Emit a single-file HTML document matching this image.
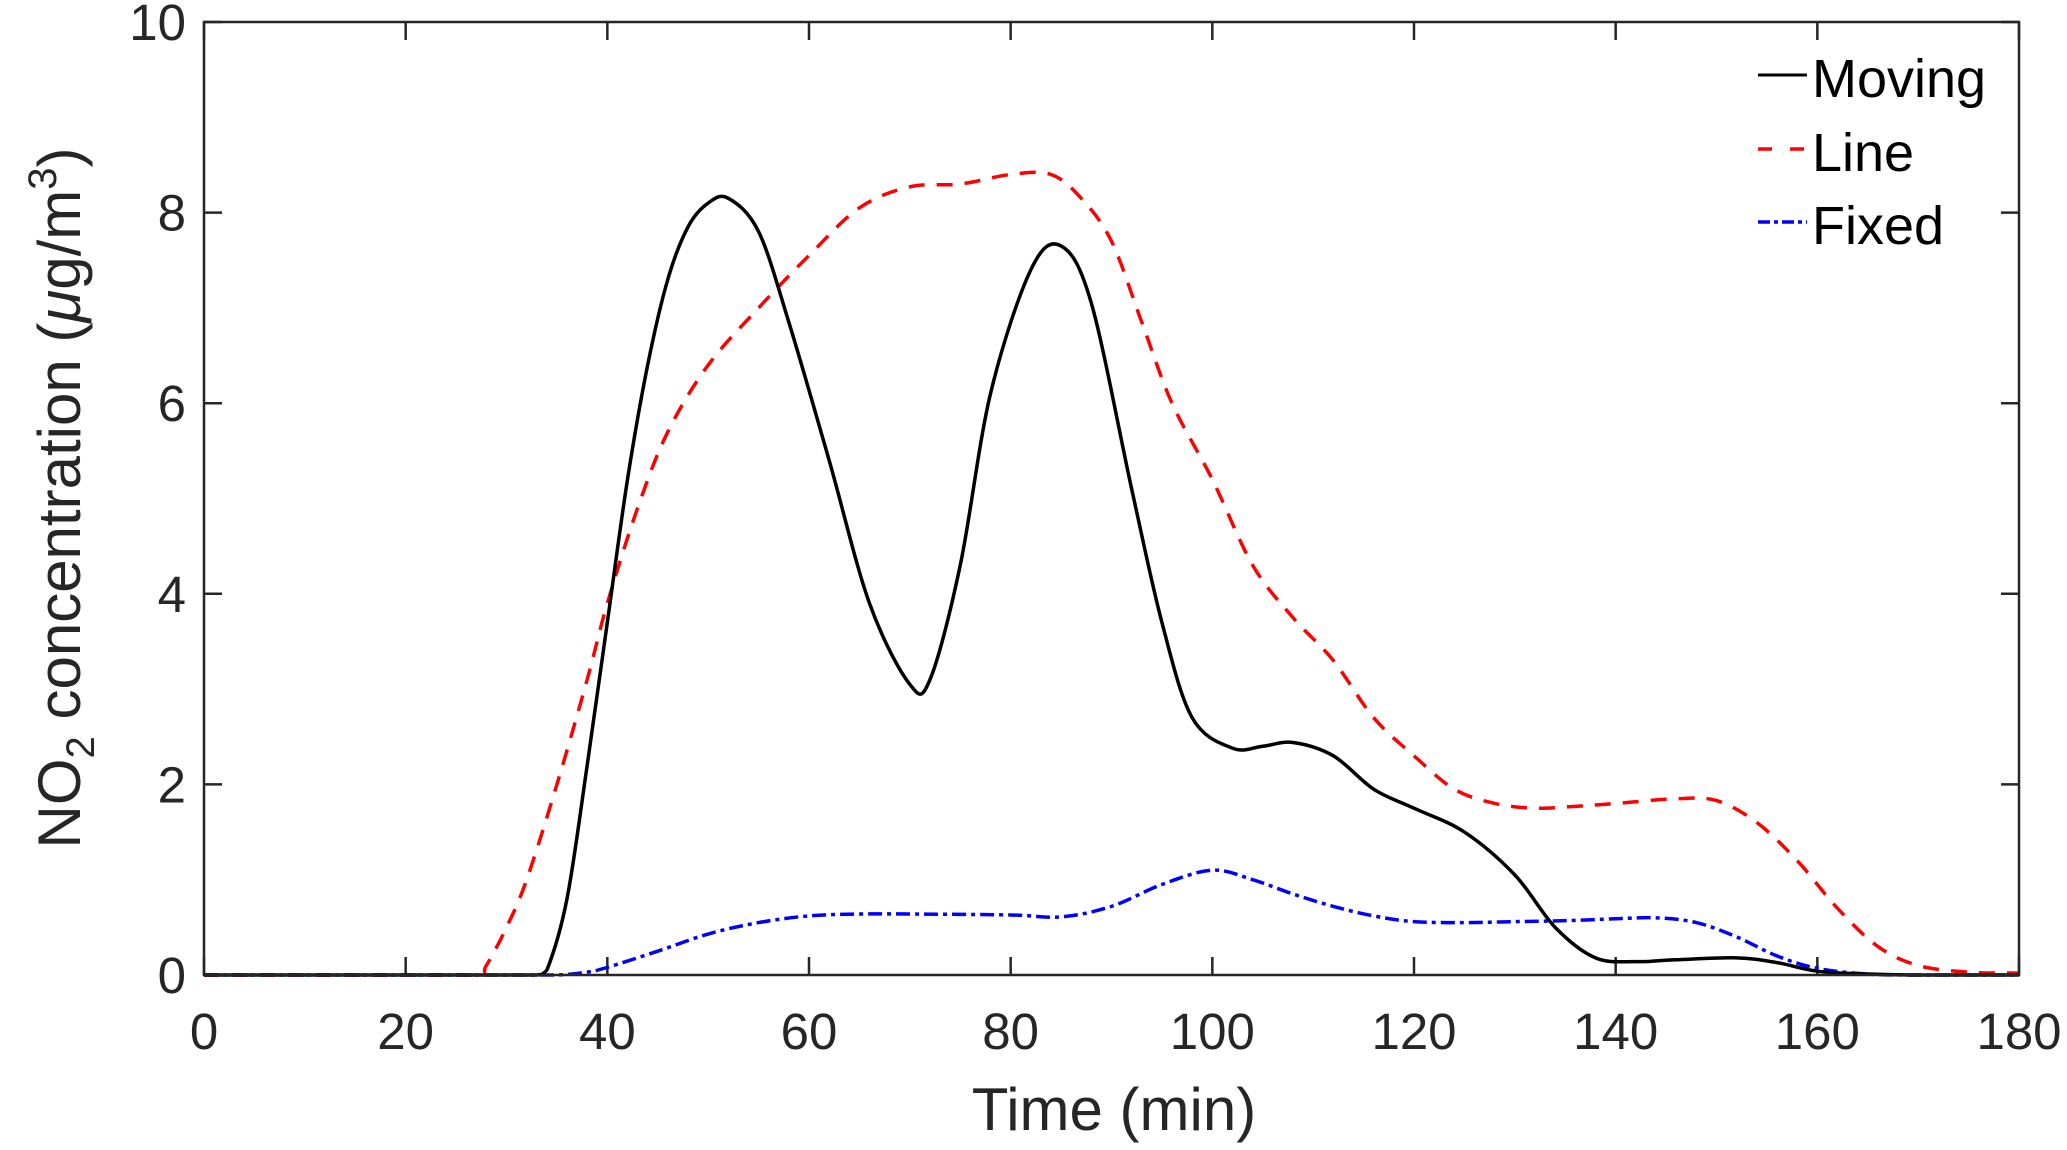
<!DOCTYPE html>
<html><head><meta charset="utf-8"><style>
body{margin:0;background:#fff;}
svg text{font-family:"Liberation Sans",Arial,sans-serif;fill:#262626;}
</style></head><body>
<svg id="chart" width="2067" height="1145" viewBox="0 0 2067 1145" xmlns="http://www.w3.org/2000/svg">
<g id="axes"></g>
<g id="series"></g>
<rect x="204" y="22" width="1815" height="953" fill="none" stroke="#262626" stroke-width="2.5"/>
<text x="1114" y="1130" font-size="60" text-anchor="middle">Time (min)</text>
<text transform="translate(80,498) rotate(-90)" font-size="60" text-anchor="middle">NO<tspan font-size="40" dy="14">2</tspan><tspan dy="-14"> concentration (</tspan><tspan font-style="italic">μ</tspan>g/m<tspan font-size="40" dy="-24">3</tspan><tspan dy="24">)</tspan></text>
<g>
<g><line x1="1758" y1="75" x2="1807" y2="75" stroke="#000" stroke-width="3"/><text x="1812" y="97" font-size="54" style="fill:#000">Moving</text></g>
<g><line x1="1758" y1="149" x2="1807" y2="149" stroke="#f00" stroke-width="3.5" stroke-dasharray="14,18"/><text x="1812" y="171" font-size="54" style="fill:#000">Line</text></g>
<g><line x1="1758" y1="222" x2="1807" y2="222" stroke="#00f" stroke-width="3.5" stroke-dasharray="12,4,4,4"/><text x="1812" y="244" font-size="54" style="fill:#000">Fixed</text></g>
</g>
</svg>
<script>
const xTicks=[0,20,40,60,80,100,120,140,160,180];
const yTicks=[0,2,4,6,8,10];
const movingT=[0,10,20,30,33,34,36,38,40,42,44,46,48,50,52,55,58,62,66,70,72,75,78,82,85,88,92,95,98,102,105,108,112,116,120,125,130,134,138,142,146,152,156,160,165,170,180];
const movingV=[0,0,0,0,0,0.05,0.8,2.2,3.7,5.2,6.4,7.3,7.85,8.1,8.15,7.8,6.85,5.4,3.9,3.05,3.1,4.3,6.1,7.4,7.65,7.05,5.1,3.7,2.7,2.38,2.4,2.44,2.3,1.95,1.75,1.5,1.05,0.5,0.18,0.14,0.16,0.18,0.13,0.04,0.01,0,0];
const lineT=[0,10,20,27,28,30,32,35,38,40,43,46,50,55,60,65,70,75,80,84,87,90,93,96,100,104,108,112,116,120,124,128,132,136,140,146,150,154,158,162,166,170,175,180];
const lineV=[0,0,0,0,0.1,0.5,1.0,2.0,3.1,3.9,4.9,5.7,6.4,7.0,7.55,8.05,8.27,8.3,8.4,8.4,8.15,7.7,6.85,6.0,5.2,4.3,3.75,3.3,2.7,2.3,1.95,1.8,1.75,1.77,1.8,1.85,1.83,1.6,1.2,0.7,0.3,0.1,0.03,0.02];
const fixedT=[0,10,20,30,35,38,40,45,50,55,60,65,70,80,85,90,95,100,104,108,112,116,120,125,130,135,140,144,148,152,156,160,165,170,180];
const fixedV=[0,0,0,0,0,0.03,0.08,0.25,0.43,0.55,0.62,0.64,0.64,0.63,0.61,0.72,0.95,1.1,1.0,0.85,0.72,0.62,0.56,0.55,0.56,0.57,0.59,0.6,0.55,0.4,0.2,0.07,0.01,0,0];
const X0=204,X1=2019,Y0=975,Y1=22;
const sx=t=>X0+(t-0)/180*(X1-X0);
const sy=v=>Y0-(v/10)*(Y0-Y1);
const NS="http://www.w3.org/2000/svg";
const axes=document.getElementById('axes');
function mk(tag,attrs,parent){const e=document.createElementNS(NS,tag);for(const k in attrs)e.setAttribute(k,attrs[k]);parent.appendChild(e);return e;}
xTicks.forEach(t=>{
  const l=mk('line',{x1:sx(t),x2:sx(t),y1:Y0,y2:Y0-18,stroke:'#262626','stroke-width':2.5},axes);
  
  
  const l2=mk('line',{x1:sx(t),x2:sx(t),y1:Y1,y2:Y1+18,stroke:'#262626','stroke-width':2.5},axes);
  
  
  const tx=mk('text',{x:sx(t),y:1049,'font-size':51,'text-anchor':'middle'},axes);
  tx.textContent=t;
  
  
});
yTicks.forEach(v=>{
  const l=mk('line',{x1:X0,x2:X0+18,y1:sy(v),y2:sy(v),stroke:'#262626','stroke-width':2.5},axes);
  
  
  const l2=mk('line',{x1:X1,x2:X1-18,y1:sy(v),y2:sy(v),stroke:'#262626','stroke-width':2.5},axes);
  
  
  const tx=mk('text',{x:186,y:sy(v)+18,'font-size':51,'text-anchor':'end'},axes);
  tx.textContent=v;
  
  
});
function smooth(T,V){
  const p=T.map((t,i)=>[sx(t),sy(V[i])]);
  const cl=y=>Math.min(Y0,y);
  let d=`M${p[0][0]},${p[0][1]}`;
  for(let i=0;i<p.length-1;i++){
    const a=p[Math.max(0,i-1)],b=p[i],c=p[i+1],e=p[Math.min(p.length-1,i+2)];
    const c1=[b[0]+(c[0]-a[0])/6,cl(b[1]+(c[1]-a[1])/6)],c2=[c[0]-(e[0]-b[0])/6,cl(c[1]-(e[1]-b[1])/6)];
    d+=` C${c1[0]},${c1[1]} ${c2[0]},${c2[1]} ${c[0]},${c[1]}`;
  }
  return d;
}
const series=document.getElementById('series');
const pf=mk('path',{d:smooth(fixedT,fixedV),fill:'none',stroke:'#00f','stroke-width':3.5,'stroke-dasharray':'14,5,4,5'},series);


const pl=mk('path',{d:smooth(lineT,lineV),fill:'none',stroke:'#f00','stroke-width':3.5,'stroke-dasharray':'16,12'},series);


const pm=mk('path',{d:smooth(movingT,movingV),fill:'none',stroke:'#000','stroke-width':3.5},series);


</script>
</body></html>
